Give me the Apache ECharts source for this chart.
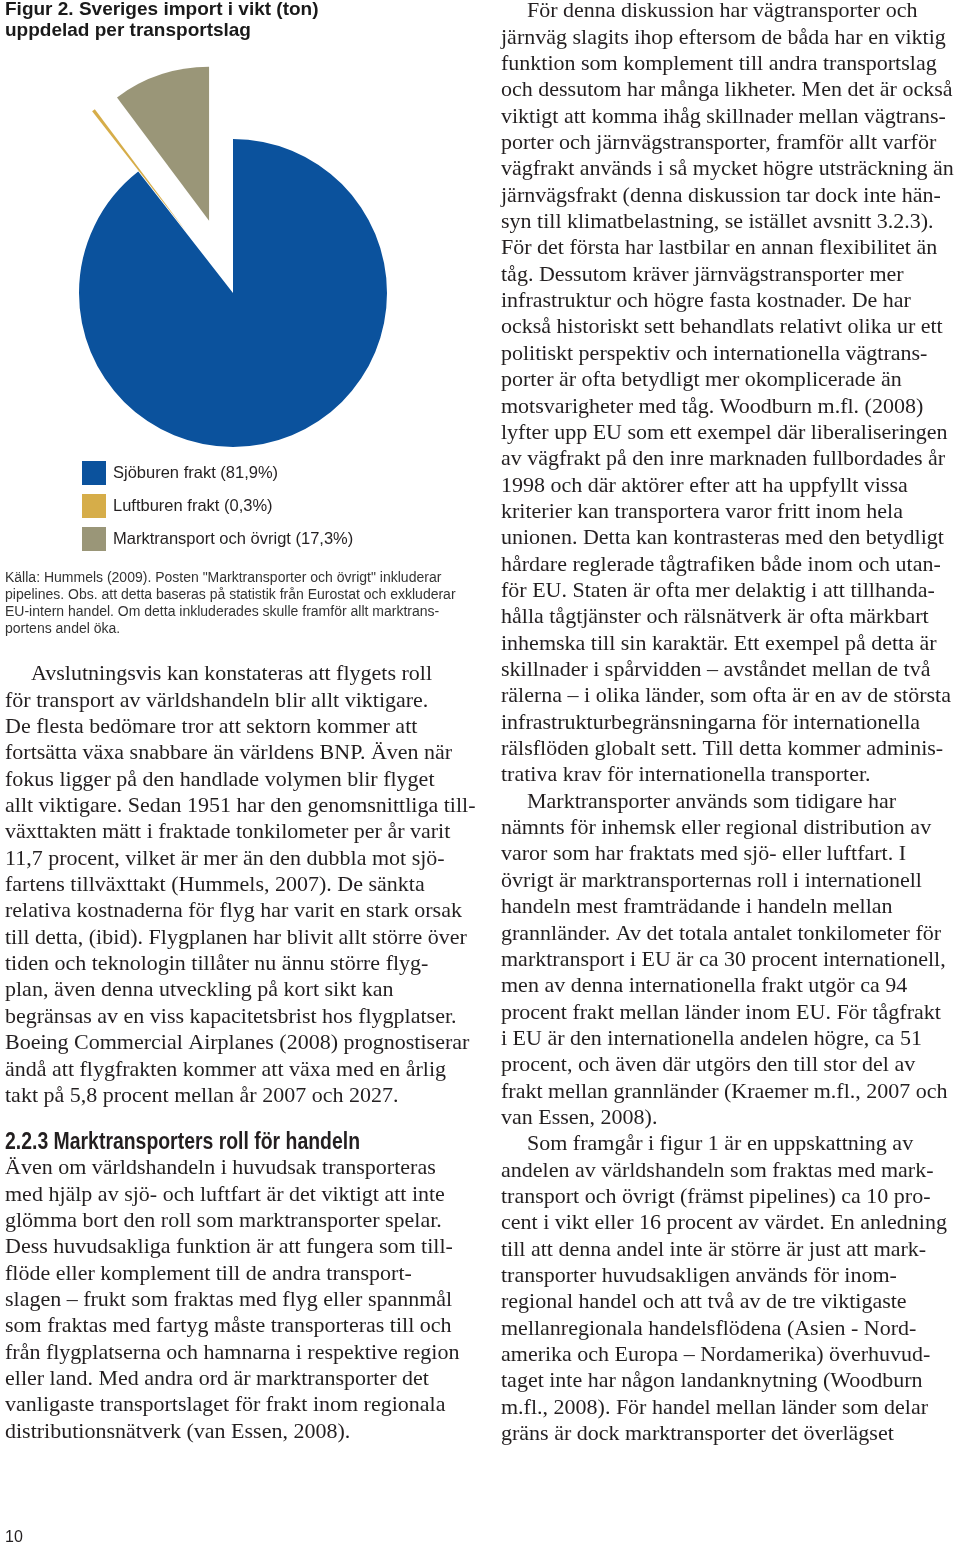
<!DOCTYPE html>
<html>
<head>
<meta charset="utf-8">
<script src="https://cdn.jsdelivr.net/npm/echarts@6/dist/echarts.min.js"></script>
<style>
html,body{margin:0;padding:0;background:#fff;}
#chart{width:960px;height:1547px;}
</style>
</head>
<body>
<div id="chart"></div>
<script>
// ---- chart data ----
const categories = ['Sjöburen frakt (81,9%)', 'Luftburen frakt (0,3%)', 'Marktransport och övrigt (17,3%)'];
const sliceValues = [89.45, 0.35, 10.2]; // shares as drawn in the pie
const sliceColors = ['#0b529d', '#d6ad49', '#9a9678'];
const explodedSlices = [false, true, true];

// ---- texts ----
const titleLines = ['Figur 2. Sveriges import i vikt (ton)', 'uppdelad per transportslag'];
const sourceLines = [
  'Källa: Hummels (2009). Posten "Marktransporter och övrigt" inkluderar',
  'pipelines. Obs. att detta baseras på statistik från Eurostat och exkluderar',
  'EU-intern handel. Om detta inkluderades skulle framför allt marktrans-',
  'portens andel öka.'
];
const leftLinesA = [
  'Avslutningsvis kan konstateras att flygets roll',
  'för transport av världshandeln blir allt viktigare.',
  'De flesta bedömare tror att sektorn kommer att',
  'fortsätta växa snabbare än världens BNP. Även när',
  'fokus ligger på den handlade volymen blir flyget',
  'allt viktigare. Sedan 1951 har den genomsnittliga till-',
  'växttakten mätt i fraktade tonkilometer per år varit',
  '11,7 procent, vilket är mer än den dubbla mot sjö-',
  'fartens tillväxttakt (Hummels, 2007). De sänkta',
  'relativa kostnaderna för flyg har varit en stark orsak',
  'till detta, (ibid). Flygplanen har blivit allt större över',
  'tiden och teknologin tillåter nu ännu större flyg-',
  'plan, även denna utveckling på kort sikt kan',
  'begränsas av en viss kapacitetsbrist hos flygplatser.',
  'Boeing Commercial Airplanes (2008) prognostiserar',
  'ändå att flygfrakten kommer att växa med en årlig',
  'takt på 5,8 procent mellan år 2007 och 2027.'
];
const headingText = '2.2.3 Marktransporters roll för handeln';
const leftLinesB = [
  'Även om världshandeln i huvudsak transporteras',
  'med hjälp av sjö- och luftfart är det viktigt att inte',
  'glömma bort den roll som marktransporter spelar.',
  'Dess huvudsakliga funktion är att fungera som till-',
  'flöde eller komplement till de andra transport-',
  'slagen – frukt som fraktas med flyg eller spannmål',
  'som fraktas med fartyg måste transporteras till och',
  'från flygplatserna och hamnarna i respektive region',
  'eller land. Med andra ord är marktransporter det',
  'vanligaste transportslaget för frakt inom regionala',
  'distributionsnätverk (van Essen, 2008).'
];
const rightLines = [
  'För denna diskussion har vägtransporter och',
  'järnväg slagits ihop eftersom de båda har en viktig',
  'funktion som komplement till andra transportslag',
  'och dessutom har många likheter. Men det är också',
  'viktigt att komma ihåg skillnader mellan vägtrans-',
  'porter och järnvägstransporter, framför allt varför',
  'vägfrakt används i så mycket högre utsträckning än',
  'järnvägsfrakt (denna diskussion tar dock inte hän-',
  'syn till klimatbelastning, se istället avsnitt 3.2.3).',
  'För det första har lastbilar en annan flexibilitet än',
  'tåg. Dessutom kräver järnvägstransporter mer',
  'infrastruktur och högre fasta kostnader. De har',
  'också historiskt sett behandlats relativt olika ur ett',
  'politiskt perspektiv och internationella vägtrans-',
  'porter är ofta betydligt mer okomplicerade än',
  'motsvarigheter med tåg. Woodburn m.fl. (2008)',
  'lyfter upp EU som ett exempel där liberaliseringen',
  'av vägfrakt på den inre marknaden fullbordades år',
  '1998 och där aktörer efter att ha uppfyllt vissa',
  'kriterier kan transportera varor fritt inom hela',
  'unionen. Detta kan kontrasteras med den betydligt',
  'hårdare reglerade tågtrafiken både inom och utan-',
  'för EU. Staten är ofta mer delaktig i att tillhanda-',
  'hålla tågtjänster och rälsnätverk är ofta märkbart',
  'inhemska till sin karaktär. Ett exempel på detta är',
  'skillnader i spårvidden – avståndet mellan de två',
  'rälerna – i olika länder, som ofta är en av de största',
  'infrastrukturbegränsningarna för internationella',
  'rälsflöden globalt sett. Till detta kommer adminis-',
  'trativa krav för internationella transporter.',
  'Marktransporter används som tidigare har',
  'nämnts för inhemsk eller regional distribution av',
  'varor som har fraktats med sjö- eller luftfart. I',
  'övrigt är marktransporternas roll i internationell',
  'handeln mest framträdande i handeln mellan',
  'grannländer. Av det totala antalet tonkilometer för',
  'marktransport i EU är ca 30 procent internationell,',
  'men av denna internationella frakt utgör ca 94',
  'procent frakt mellan länder inom EU. För tågfrakt',
  'i EU är den internationella andelen högre, ca 51',
  'procent, och även där utgörs den till stor del av',
  'frakt mellan grannländer (Kraemer m.fl., 2007 och',
  'van Essen, 2008).',
  'Som framgår i figur 1 är en uppskattning av',
  'andelen av världshandeln som fraktas med mark-',
  'transport och övrigt (främst pipelines) ca 10 pro-',
  'cent i vikt eller 16 procent av värdet. En anledning',
  'till att denna andel inte är större är just att mark-',
  'transporter huvudsakligen används för inom-',
  'regional handel och att två av de tre viktigaste',
  'mellanregionala handelsflödena (Asien - Nord-',
  'amerika och Europa – Nordamerika) överhuvud-',
  'taget inte har någon landanknytning (Woodburn',
  'm.fl., 2008). För handel mellan länder som delar',
  'gräns är dock marktransporter det överlägset'
];
const rightIndented = [0, 30, 43];
const pageNumber = '10';

// ---- styles / layout ----
const SANS = '"Liberation Sans", Arial, Helvetica, sans-serif';
const SERIF = '"Liberation Serif", "Times New Roman", serif';
const bodyFont = '22px ' + SERIF;
const bodyColor = '#231f20';
const step = 26.35;

const graphics = [];
function addText(str, x, y, font, fill, scaleX) {
  graphics.push({
    type: 'text', silent: true, x: x, y: y, scaleX: scaleX || 1,
    style: { text: str, x: 0, y: 0, font: font, fill: fill, align: 'left', verticalAlign: 'middle' }
  });
}
// condensed heading: squeeze a bold sans horizontally to the reference width
const headingFont = 'bold 24px ' + SANS;
const ctx = document.createElement('canvas').getContext('2d');
ctx.font = headingFont;
const headingScale = 355 / ctx.measureText(headingText).width;

titleLines.forEach((t, i) => addText(t, 5, 10 + i * 21, 'bold 19px ' + SANS, '#1a1a1a'));
sourceLines.forEach((t, i) => addText(t, 5, 578 + i * 17, '14px ' + SANS, '#333'));
leftLinesA.forEach((t, i) => addText(t, i === 0 ? 31 : 5, 674.5 + i * step, bodyFont, bodyColor));
addText(headingText, 5, 1142, headingFont, '#231f20', headingScale);
leftLinesB.forEach((t, i) => addText(t, 5, 1168.5 + i * step, bodyFont, bodyColor));
rightLines.forEach((t, i) => addText(t, rightIndented.indexOf(i) >= 0 ? 527 : 501, 11.5 + i * step, bodyFont, bodyColor));
addText(pageNumber, 5, 1538, '16px ' + SANS, '#231f20');

const chart = echarts.init(document.getElementById('chart'), null, { renderer: 'canvas' });
chart.setOption({
  animation: false,
  backgroundColor: '#fff',
  color: sliceColors,
  legend: {
    orient: 'vertical', left: 77, top: 456,
    itemWidth: 24, itemHeight: 24, itemGap: 9,
    icon: 'rect', selectedMode: false,
    textStyle: { fontFamily: SANS, fontSize: 16.5, color: '#231f20', padding: [0, 0, 0, 2] },
    data: categories
  },
  series: [{
    type: 'pie',
    center: [233, 293],
    radius: 154,
    startAngle: 90,
    clockwise: true,
    selectedMode: 'multiple',
    selectedOffset: 76,
    label: { show: false },
    labelLine: { show: false },
    emphasis: { disabled: true },
    itemStyle: { borderWidth: 0 },
    data: categories.map((c, i) => ({
      name: c, value: sliceValues[i], selected: explodedSlices[i],
      itemStyle: { color: sliceColors[i] }
    }))
  }],
  graphic: graphics
});
</script>
</body>
</html>
